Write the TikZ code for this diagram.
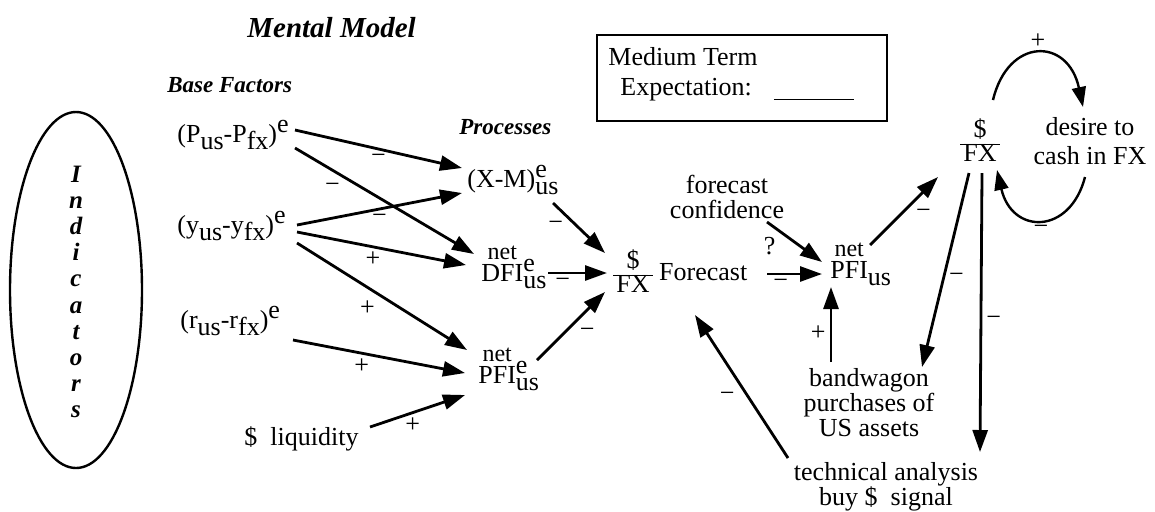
\documentclass[tikz,border=0pt]{standalone}
\usepackage{fontspec}
\setmainfont{Liberation Serif}
\usetikzlibrary{arrows.meta, shapes.geometric, positioning}
\newcommand{\lo}[1]{\raisebox{-3.5pt}{#1}}
\newcommand{\hi}[1]{\raisebox{5pt}{#1}}
\newcommand{\es}[2]{\rlap{\hi{#1}}\lo{#2}}
\newcommand{\netx}[1]{{\renewcommand{\arraystretch}{0.55}\begin{tabular}[b]{@{}c@{}}\fontsize{12}{12}\selectfont net\\#1\end{tabular}}}
\newcommand{\dfx}{{\renewcommand{\arraystretch}{0.8}\begin{tabular}{@{\kern1.5pt}c@{\kern1.5pt}}\$\\\hline FX\end{tabular}}}

\begin{document}
\begin{tikzpicture}[x=0.5pt, y=-0.5pt,
    txt/.style={inner sep=1pt, font=\fontsize{13}{12.5}\selectfont},
    hd/.style={inner sep=1pt, font=\fontsize{11.5}{12}\selectfont\bfseries\itshape},
    arr/.style={-{Triangle[length=11pt,width=7.5pt]}, line width=1.4pt},
    loop/.style={-{Triangle[length=10pt,width=7pt]}, line width=1.2pt},
    sgn/.style={inner sep=2pt, font=\fontsize{13}{12}\selectfont}]
    \useasboundingbox (0,0) rectangle (1155,511);

    % headings
    \node[hd, font=\fontsize{14.5}{16}\selectfont\bfseries\itshape, anchor=base west] (mental) at (245,37) {Mental Model};
    \node[hd, anchor=base west] (basef) at (165,92) {Base Factors};
    \node[hd, anchor=base west] (proc) at (457,134) {Processes};

    % indicators
    \node[draw, line width=1.2pt, ellipse, minimum width=66pt, minimum height=178pt] (indic) at (76,290) {};
    \foreach \ch [count=\i] in {I,n,d,i,c,a,t,o,r,s}
        \node[hd, font=\fontsize{12.5}{13}\selectfont\bfseries\itshape, anchor=base] (ind\i) at (76,{182+26.2*(\i-1)}) {\ch};

    % base factors
    \node[txt, anchor=base west] (pfx) at (175,142) {(P\lo{us}-P\lo{fx})\hi{e}};
    \node[txt, anchor=base west] (yfx) at (175,233) {(y\lo{us}-y\lo{fx})\hi{e}};
    \node[txt, anchor=base west] (rfx) at (178,328) {(r\lo{us}-r\lo{fx})\hi{e}};
    \node[txt, anchor=base west] (liq) at (242,445) {\$\ \ liquidity};

    % processes
    \node[txt, anchor=base west] (xm) at (465,187) {(X-M)\es{e}{us}};
    \node[txt, anchor=base west] (dfi) at (479,281) {\netx{DFI}\es{e}{us}};
    \node[txt, anchor=base west] (pfie) at (476,383) {\netx{PFI}\es{e}{us}};

    % forecast
    \node[txt, anchor=base west] (fcst) at (611,280) {\dfx\ Forecast};
    \node[txt, align=center] (conf) at (727,197) {forecast\\confidence};
    \node[txt, anchor=base west] (pfi) at (828,278) {\netx{PFI}\lo{us}};

    % expectation box
    \node[draw, line width=1pt, minimum width=145pt, minimum height=43pt] (mtbox) at (742,78) {};
    \node[txt, anchor=base west] (mt1) at (606,65) {Medium Term};
    \node[txt, anchor=base west] (mt2) at (618,95) {Expectation:\hspace{11pt}\raisebox{-2.5pt}{\rule{40pt}{0.7pt}}};

    % right side
    \node[txt] (fxr) at (980,143) {\dfx};
    \node[txt, align=center, font=\fontsize{13}{14.5}\selectfont] (desire) at (1090,141) {desire to\\cash in FX};
    \node[txt, align=center] (band) at (869,403) {bandwagon\\purchases of\\US assets};
    \node[txt, align=center] (tech) at (886,487) {technical analysis\\buy \$\ \ signal};

    % links
    \draw[arr] ([shift={(120,-12)}]pfx.base west) -- ([shift={(-3,-19)}]xm.base west) node[sgn, pos=.5, below] (s1) {−};
    \draw[arr] ([shift={(120,6)}]pfx.base west) -- ([shift={(-5,-27)}]dfi.base west) node[sgn, pos=.28, below left] (s2) {−};
    \draw[arr] ([shift={(122,-8)}]yfx.base west) -- ([shift={(-3,6)}]xm.base west) node[sgn, pos=.5, below] (s3) {−};
    \draw[arr] ([shift={(122,-1)}]yfx.base west) -- ([shift={(-13,-16)}]dfi.base west) node[sgn, pos=.45, below] (s4) {+};
    \draw[arr] ([shift={(122,10)}]yfx.base west) -- ([shift={(-9,-33)}]pfie.base west) node[sgn, pos=.49, below left] (s5) {+};
    \draw[arr] ([shift={(115,12)}]rfx.base west) -- ([shift={(-11,-10)}]pfie.base west) node[sgn, pos=.4, below] (s6) {+};
    \draw[arr] ([shift={(128,-18)}]liq.base west) -- ([shift={(-11,12)}]pfie.base west) node[sgn, pos=.45, below] (s7) {+};
    \draw[arr] ([shift={(88,16)}]xm.base west) -- ([shift={(-6,-27)}]fcst.base west) node[sgn, pos=.45, left=4pt] (s8) {−};
    \draw[arr] ([shift={(69,-8)}]dfi.base west) -- ([shift={(-4,-7)}]fcst.base west) node[sgn, pos=.25, below] (s9) {−};
    \draw[arr] ([shift={(61,-23)}]pfie.base west) -- ([shift={(-6,12)}]fcst.base west) node[sgn, pos=.55, below right] (s10) {−};
    \draw[arr] ([shift={(156,-6)}]fcst.base west) -- ([shift={(-6,-4)}]pfi.base west) node[sgn, pos=.25, below] (s11) {−};
    \draw[arr] ([shift={(40,25)}]conf.center) -- ([shift={(-6,-16)}]pfi.base west) node[sgn, pos=.25, below left] (s12) {?};
    \draw[arr] ([shift={(42,-33)}]pfi.base west) -- ([shift={(-42,34)}]fxr.center) node[sgn, pos=.6, below right] (s13) {−};
    \draw[arr] ([shift={(-11,30)}]fxr.center) -- ([shift={(53,-36)}]band.center) node[sgn, pos=.54, right] (s14) {−};
    \draw[arr] ([shift={(2,30)}]fxr.center) -- ([shift={(94,-35)}]tech.center) node[sgn, pos=.53, right] (s15) {−};
    \draw[arr] ([shift={(-38,-41)}]band.center) -- ([shift={(3,9)}]pfi.base west) node[sgn, pos=.39, left] (s16) {+};
    \draw[arr] ([shift={(-98,-29)}]tech.center) -- ([shift={(84,35)}]fcst.base west) node[sgn, pos=.43, left=4pt] (s17) {−};

    % feedback loop
    \draw[loop] ([shift={(13,-43)}]fxr.center) .. controls +(15,-63) and +(-15,-70) .. ([shift={(-7,-34)}]desire.center) node[sgn, pos=.5, above] (s18) {+};
    \draw[loop] ([shift={(-5,36)}]desire.center) .. controls +(-15,58) and +(15,65) .. ([shift={(17,27)}]fxr.center) node[sgn, pos=.5, below] (s19) {−};
\end{tikzpicture}
\end{document}
